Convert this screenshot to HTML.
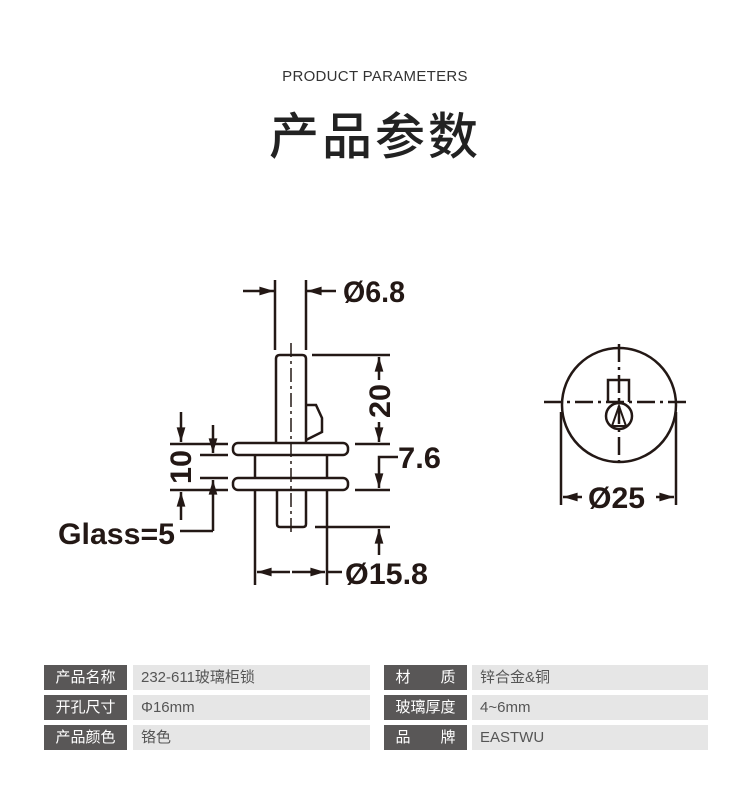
<!DOCTYPE html>
<html><head><meta charset="utf-8"><style>
body{margin:0;width:750px;height:792px;background:#fff;position:relative;font-family:"Liberation Sans","Noto Sans CJK SC",sans-serif;overflow:hidden}
.t1{position:absolute;top:68px;left:0;width:750px;text-align:center;font-size:15px;color:#333;letter-spacing:0.3px}
.t2{position:absolute;top:97px;left:0;width:750px;text-align:center;font-size:50px;color:#222;font-weight:500;letter-spacing:3px;font-family:"Noto Sans CJK SC",sans-serif}
.c{position:absolute;height:25px;line-height:25px;font-size:15px;font-family:"Liberation Sans","Noto Sans CJK SC",sans-serif}
.l{background:#595757;color:#fff;text-align:center;width:83px}
.v{background:#e6e6e6;color:#555;padding-left:8px;box-sizing:border-box}
</style></head><body>
<div class="t1">PRODUCT PARAMETERS</div>
<div class="t2">产品参数</div>
<svg width="750" height="792" style="position:absolute;left:0;top:0" font-family="Liberation Sans, sans-serif" font-weight="bold">
<defs><marker id="a" viewBox="0 0 10 6" refX="10" refY="3" markerWidth="6" markerHeight="3.5" orient="auto-start-reverse"><path d="M0,0L10,3L0,6z" fill="#231815"/></marker></defs>
<g stroke="#231815" stroke-width="2.5" fill="none">
<line x1="275" y1="280" x2="275" y2="350"/><line x1="306" y1="280" x2="306" y2="350"/>
<line x1="243" y1="291" x2="274" y2="291" marker-end="url(#a)"/><line x1="336" y1="291" x2="307" y2="291" marker-end="url(#a)"/>
<path d="M276,443 V359 Q276,355 280,355 H302 Q306,355 306,359 V443"/>
<path d="M306,405 L316,405 L322,418 L322,432 L306,440"/>
<rect x="233" y="443" width="115" height="12" rx="5"/>
<rect x="233" y="478" width="115" height="12" rx="5"/>
<line x1="255" y1="455" x2="255" y2="478"/><line x1="327" y1="455" x2="327" y2="478"/>
<line x1="255" y1="490" x2="255" y2="585"/><line x1="327" y1="490" x2="327" y2="585"/>
<path d="M277,490 V524 Q277,527 280,527 H303 Q306,527 306,524 V490"/>
<line x1="312" y1="355" x2="390" y2="355"/><line x1="355" y1="444" x2="390" y2="444"/>
<line x1="379" y1="380" x2="379" y2="357" marker-end="url(#a)"/><line x1="379" y1="422" x2="379" y2="442" marker-end="url(#a)"/>
<line x1="355" y1="490" x2="390" y2="490"/>
<path d="M398,457 H379 V488" marker-end="url(#a)"/>
<line x1="315" y1="527" x2="390" y2="527"/>
<line x1="379" y1="555" x2="379" y2="529" marker-end="url(#a)"/>
<line x1="290" y1="572" x2="257" y2="572" marker-end="url(#a)"/><line x1="292" y1="572" x2="325" y2="572" marker-end="url(#a)"/>
<line x1="327" y1="572" x2="342" y2="572"/>
<line x1="170" y1="444" x2="228" y2="444"/><line x1="170" y1="490" x2="228" y2="490"/>
<line x1="200" y1="455" x2="228" y2="455"/><line x1="200" y1="478" x2="228" y2="478"/>
<line x1="181" y1="412" x2="181" y2="442" marker-end="url(#a)"/><line x1="181" y1="520" x2="181" y2="492" marker-end="url(#a)"/>
<line x1="213" y1="425" x2="213" y2="453" marker-end="url(#a)"/>
<path d="M213,531 V480" marker-end="url(#a)"/><line x1="213" y1="531" x2="180" y2="531"/>
<circle cx="619" cy="405" r="57"/>
<line x1="619" y1="344" x2="619" y2="466" stroke-dasharray="18,5,3,5"/>
<line x1="544" y1="402" x2="687" y2="402" stroke-dasharray="18,5,3,5"/>
<path d="M608,402 V380 H629 V402"/>
<circle cx="619" cy="416" r="13"/>
<path d="M612,426 L619,406 L626,426 Z" stroke-width="2"/>
<line x1="561" y1="412" x2="561" y2="505"/><line x1="676" y1="412" x2="676" y2="505"/>
<line x1="582" y1="497" x2="563" y2="497" marker-end="url(#a)"/><line x1="656" y1="497" x2="674" y2="497" marker-end="url(#a)"/>
</g>
<line x1="291" y1="343" x2="291" y2="532" stroke="#231815" stroke-width="1.5" stroke-dasharray="14,4,3,4"/>
<g fill="#231815" font-size="30">
<text x="343" y="302" textLength="62" lengthAdjust="spacingAndGlyphs">Ø6.8</text>
<text x="398" y="468" textLength="43" lengthAdjust="spacingAndGlyphs">7.6</text>
<text x="345" y="584" textLength="83" lengthAdjust="spacingAndGlyphs">Ø15.8</text>
<text x="58" y="544" textLength="117" lengthAdjust="spacingAndGlyphs">Glass=5</text>
<text x="588" y="508" textLength="57" lengthAdjust="spacingAndGlyphs">Ø25</text>
<text transform="translate(390,401) rotate(-90)" text-anchor="middle" textLength="34" lengthAdjust="spacingAndGlyphs">20</text>
<text transform="translate(191,467) rotate(-90)" text-anchor="middle" textLength="34" lengthAdjust="spacingAndGlyphs">10</text>
</g>
</svg>
<div class="c l" style="left:44px;top:665px">产品名称</div><div class="c v" style="left:133px;top:665px;width:237px">232-611玻璃柜锁</div>
<div class="c l" style="left:44px;top:695px">开孔尺寸</div><div class="c v" style="left:133px;top:695px;width:237px">Φ16mm</div>
<div class="c l" style="left:44px;top:725px">产品颜色</div><div class="c v" style="left:133px;top:725px;width:237px">铬色</div>
<div class="c l" style="left:384px;top:665px">材　　质</div><div class="c v" style="left:472px;top:665px;width:236px">锌合金&amp;铜</div>
<div class="c l" style="left:384px;top:695px">玻璃厚度</div><div class="c v" style="left:472px;top:695px;width:236px">4~6mm</div>
<div class="c l" style="left:384px;top:725px">品　　牌</div><div class="c v" style="left:472px;top:725px;width:236px">EASTWU</div>
</body></html>
